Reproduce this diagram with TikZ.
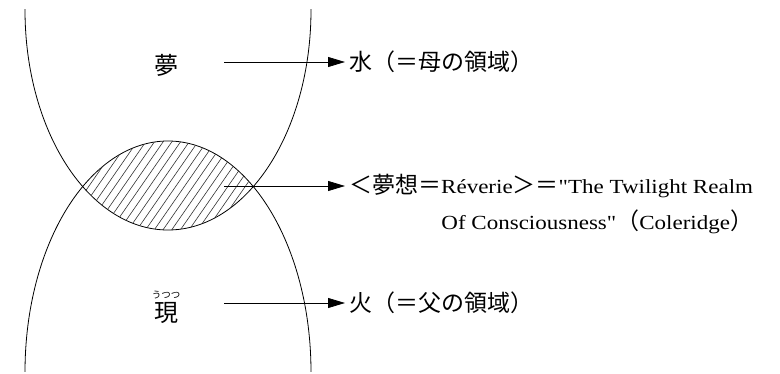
\documentclass[tikz,border=0pt]{standalone}
\usepackage{fontspec}
\setmainfont{Liberation Serif}[Ligatures=TeXOff, FakeStretch=1.15]
\newfontfamily\cjk{Noto Sans CJK JP}
\usetikzlibrary{arrows.meta}
\begin{document}
\begin{tikzpicture}[x=1pt,y=-1pt,
  curve/.style={line width=0.8pt},
  hatchline/.style={line width=0.6pt, black!80},
  pointer/.style={line width=0.8pt, -{Triangle[length=17pt,width=10pt]}},
  kanji/.style={font=\fontsize{24}{28}\selectfont\cjk, inner sep=0pt},
  lbl/.style={font=\fontsize{20}{24}\selectfont, inner sep=4pt, anchor=west},
  jlbl/.style={lbl, font=\fontsize{23}{28}\selectfont\cjk},
  ]
\useasboundingbox (0,0) rectangle (780,374);
% curves
\begin{scope}
  \clip (0,10) rectangle (780,372);
  \draw[curve] (168,10) ellipse [x radius=143, y radius=220];
  \draw[curve] (168,372) ellipse [x radius=143, y radius=231];
\end{scope}
% hatching of the lens
\begin{scope}
  \clip (168,10) ellipse [x radius=143, y radius=220];
  \clip (168,372) ellipse [x radius=143, y radius=231];
  \foreach \i in {-16,...,16} {
    \draw[hatchline] ({168+\i*8.7-52},260) -- ({168+\i*8.7+52},110);
  }
\end{scope}
% labels on the left
\node[kanji] (yume) at (166,65) {夢};
\node[kanji] (utsutsu) at (166,313) {現};
\node[font=\fontsize{9.5}{10}\selectfont\cjk, inner sep=0pt] (ruby) at (166,295) {うつつ};
% texts on the right
\node[jlbl] (water) at (345,62) {水（＝母の領域）};
\node[lbl] (reverie) at (345,186) {{\fontsize{23}{28}\selectfont\cjk ＜夢想＝}Réverie{\fontsize{23}{28}\selectfont\cjk ＞＝}"The Twilight Realm};
\node[lbl, anchor=base east] (reverie2) at ([yshift=-36pt]reverie.base east) {Of Consciousness"{\fontsize{23}{28}\selectfont\cjk （}Coleridge{\fontsize{23}{28}\selectfont\cjk ）}};
\node[jlbl] (fire) at (345,303) {火（＝父の領域）};
% connectors
\coordinate (s1) at (224,62);
\coordinate (s2) at (224,186);
\coordinate (s3) at (224,303);
\draw[pointer] (s1) -- (water.west);
\draw[pointer] (s2) -- (reverie.west);
\draw[pointer] (s3) -- (fire.west);
\end{tikzpicture}
\end{document}
